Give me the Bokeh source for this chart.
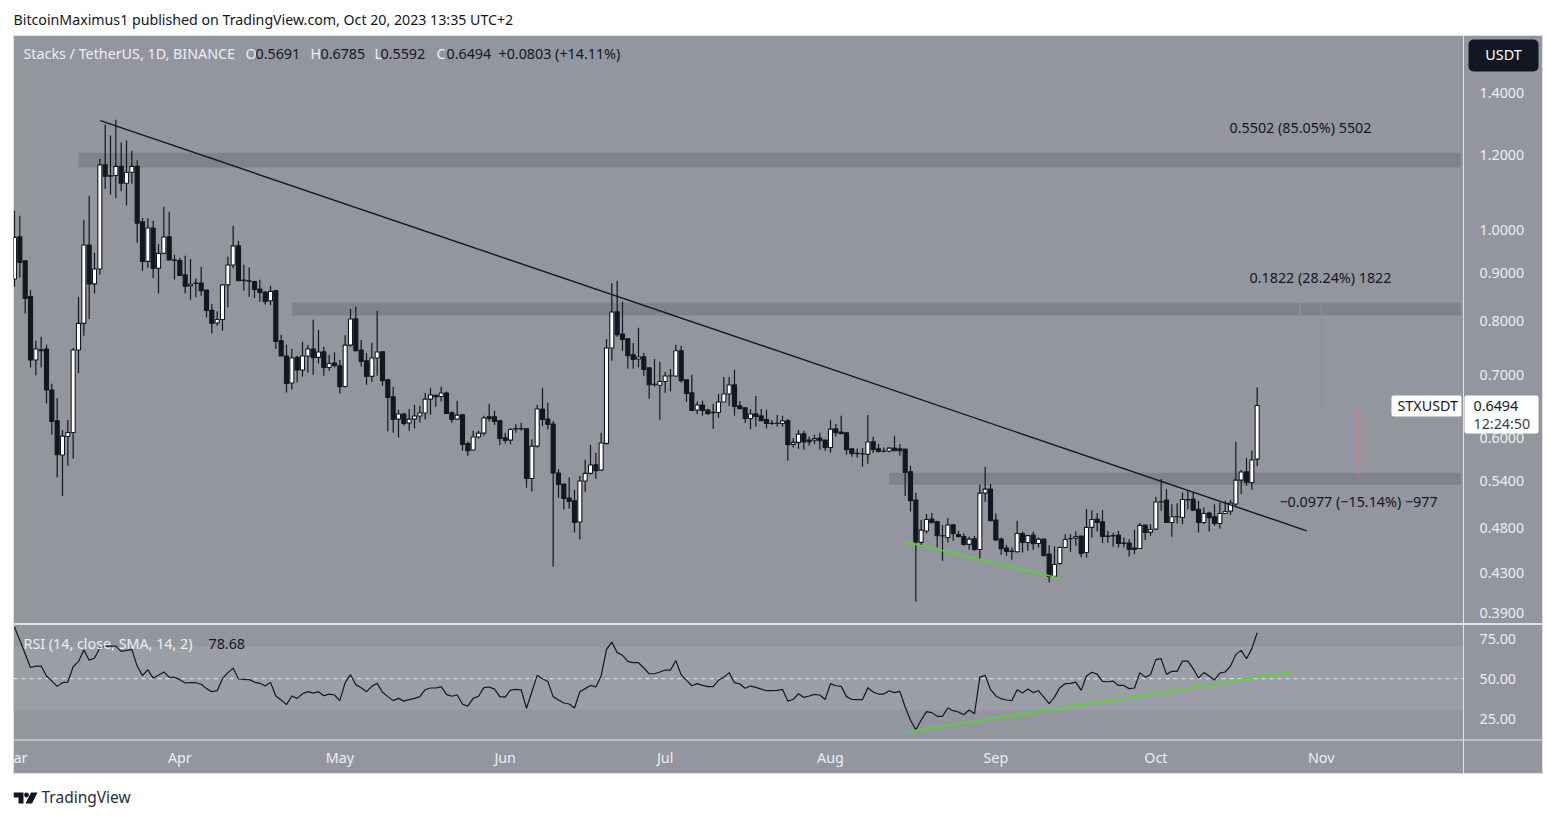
import math
from bokeh.embed import file_html
from bokeh.layouts import column
from bokeh.models import (BoxAnnotation, ColumnDataSource, FixedTicker, Label, LinearAxis, LogAxis,
                          Range1d, PrintfTickFormatter)
from bokeh.plotting import figure
from bokeh.resources import INLINE

opens = [
.8858,.9829,.9266,.8483,.7261,.7446,.7459,.6744,.6254,.5749,
.6018,.6076,.7441,.7945,.9630,.8753,.9078,1.1725,1.1421,1.1421,
1.1682,1.1208,1.1515,1.1682,1.0199,.9250,1.0042,.9094,.9435,.9829,
.9282,.9270,.8953,.8710,.8765,.8773,.8623,.8201,.7952,.8021,
.8731,.9169,.9609,.8836,.8822,.8801,.8644,.8581,.8399,.8608,
.7613,.7333,.6861,.7307,.7084,.7333,.7459,.7307,.7410,.7129,
.7207,.7158,.6803,.7531,.8035,.7441,.7248,.6975,.7296,.7410,
.6917,.6633,.6280,.6358,.6219,.6280,.6327,.6374,.6596,.6657,
.6639,.6696,.6378,.6280,.6347,.5912,.5820,.6010,.6067,.6316,
.6316,.6254,.5997,.5964,.6137,.6137,.6132,.5428,.5876,.6437,
.6280,.6205,.5501,.5354,.5172,.5138,.4877,.5393,.5496,.5614,
.5540,.5916,.7477,.8175,.7739,.7650,.7356,.7279,.7320,.7123,
.6838,.6823,.6888,.6981,.6981,.7428,.6917,.6700,.6421,.6500,
.6421,.6385,.6383,.6548,.6680,.6833,.6489,.6458,.6290,.6363,
.6332,.6274,.6216,.6213,.6213,.6254,.5902,.5930,.6057,.5964,
.5964,.5993,.5964,.5856,.6132,.6082,.6072,.5838,.5775,.5768,
.5758,.5940,.5838,.5806,.5806,.5848,.5838,.5834,.5518,.5147,
.4639,.4770,.4912,.4880,.4715,.4695,.4844,.4729,.4707,.4616,
.4680,.4558,.5236,.5288,.4900,.4676,.4574,.4540,.4533,.4741,
.4638,.4722,.4627,.4676,.4508,.4267,.4404,.4581,.4680,.4688,
.4712,.4525,.4813,.4912,.4880,.4712,.4712,.4722,.4631,.4631,
.4574,.4570,.4841,.4758,.4793,.5126,.5147,.4872,.4940,.4932,
.5154,.5159,.5033,.4872,.4985,.4940,.4860,.4980,.5009,.5098,
.5406,.5518,.5375,.5691]

highs = [
1.0478,1.0350,.9266,.8629,.7613,.7687,.7536,.6850,.6612,.6112,
.6265,.7477,.8482,1.0249,1.0870,.9451,1.1898,1.2945,1.2600,1.3100,
1.2394,1.2445,1.2142,1.1848,1.0293,1.0283,1.0224,.9654,1.0582,1.0453,
.9405,.9330,.9382,.9305,.8870,.9131,.8623,.8333,.8181,.8731,
.9358,1.0099,.9733,.9176,.9114,.8822,.8843,.8594,.8715,.8629,
.7726,.7541,.7459,.7338,.7595,.7534,.8016,.7815,.7500,.7356,
.7397,.7261,.7718,.8229,.8276,.7626,.7387,.7577,.8195,.7410,
.6934,.6798,.6426,.6378,.6437,.6505,.6489,.6696,.6783,.6667,
.6798,.6717,.6400,.6569,.6358,.5944,.6102,.6102,.6332,.6521,
.6410,.6265,.6072,.6143,.6202,.6224,.6132,.5978,.6500,.6783,
.6537,.6250,.5553,.5354,.5441,.5275,.5459,.5683,.5896,.5778,
.6072,.7644,.8772,.8822,.8379,.7655,.7572,.7860,.7387,.7123,
.7278,.7230,.7050,.7100,.7536,.7518,.6917,.7004,.6558,.6569,
.6442,.6516,.6680,.6964,.6964,.7089,.6564,.6458,.6437,.6645,
.6437,.6426,.6265,.6342,.6332,.6280,.5992,.6117,.6102,.6012,
.6042,.6072,.5964,.6269,.6204,.6332,.6082,.5838,.5842,.5852,
.6342,.6012,.5907,.5856,.5856,.6028,.5907,.5834,.5600,.5236,
.4900,.4972,.4985,.4892,.4841,.4925,.4853,.4773,.4741,.4703,
.4715,.5344,.5586,.5354,.4980,.4695,.4612,.4580,.4892,.4765,
.4725,.4761,.4695,.4676,.4608,.4593,.4593,.4734,.4734,.4765,
.4712,.5033,.5021,.4985,.5021,.4773,.4749,.4773,.4695,.4676,
.4785,.4865,.4841,.4853,.5190,.5419,.5288,.5096,.5108,.5245,
.5266,.5245,.5138,.5053,.5001,.5096,.5118,.5138,.5147,.5940,
.5540,.5707,.5810,.6785]

lows = [
.8692,.8894,.8141,.7129,.6992,.7129,.6526,.6042,.5441,.5200,
.5599,.5701,.7026,.7707,.8029,.8551,.8953,1.1053,1.0900,1.0810,
1.0988,1.0610,1.1192,.9692,.9041,.9100,.8880,.8551,.9435,.9282,
.8849,.8938,.8551,.8420,.8469,.8503,.8059,.7751,.7897,.7802,
.8265,.9096,.8822,.8608,.8483,.8453,.8379,.8319,.8305,.7459,
.7333,.6705,.6755,.6871,.6970,.7043,.7004,.7199,.6987,.7072,
.7129,.6688,.6787,.7500,.7416,.7147,.6833,.6883,.6987,.6815,
.6091,.6072,.6002,.6180,.6102,.6137,.6228,.6274,.6347,.6473,
.6558,.6367,.6223,.6280,.5810,.5740,.5810,.5988,.6027,.6244,
.6190,.5888,.5916,.5902,.6072,.6102,.5305,.5257,.5856,.6173,
.6121,.4372,.5176,.5029,.5041,.4753,.4672,.5253,.5478,.5423,
.5531,.5896,.7248,.7689,.7428,.7112,.7112,.7129,.6987,.6600,
.6803,.6270,.6700,.6722,.6970,.6866,.6553,.6415,.6358,.6332,
.6347,.6132,.6300,.6548,.6489,.6332,.6437,.6224,.6122,.6162,
.6254,.6137,.6190,.6162,.6162,.5669,.5856,.5838,.5824,.5882,
.5907,.5824,.5810,.5782,.6017,.6057,.5754,.5725,.5715,.5589,
.5627,.5778,.5786,.5786,.5786,.5806,.5740,.5200,.5005,.4012,
.4601,.4741,.4865,.4581,.4434,.4638,.4657,.4695,.4602,.4555,
.4544,.4442,.5126,.4884,.4657,.4500,.4489,.4445,.4525,.4525,
.4544,.4555,.4581,.4489,.4204,.4256,.4390,.4577,.4533,.4602,
.4470,.4470,.4695,.4765,.4631,.4631,.4590,.4581,.4581,.4481,
.4508,.4563,.4665,.4715,.4781,.5013,.4872,.4703,.4860,.4852,
.5033,.5021,.4753,.4852,.4765,.4832,.4800,.4973,.4965,.5075,
.5224,.5332,.5279,.5592]

closes = [
.9812,.9227,.8447,.7261,.7459,.7428,.6744,.6243,.5754,.6023,
.6076,.7441,.7945,.9630,.8753,.9078,1.1725,1.1402,1.1402,1.1682,
1.1208,1.1515,1.1682,1.0157,.9250,1.0042,.9094,.9435,.9821,.9282,
.9270,.8938,.8702,.8744,.8770,.8608,.8201,.7945,.8021,.8731,
.9169,.9609,.8822,.8822,.8810,.8635,.8572,.8385,.8594,.7600,
.7333,.6854,.7296,.7084,.7333,.7459,.7302,.7405,.7129,.7199,
.7164,.6800,.7531,.8029,.7428,.7235,.6975,.7296,.7405,.6900,
.6622,.6274,.6358,.6213,.6280,.6327,.6374,.6596,.6662,.6633,
.6696,.6367,.6274,.6342,.5902,.5810,.6010,.6067,.6296,.6289,
.6243,.5987,.5958,.6122,.6130,.6130,.5428,.5876,.6437,.6274,
.6199,.5501,.5349,.5167,.5130,.4872,.5393,.5496,.5610,.5531,
.5921,.7477,.8169,.7726,.7637,.7338,.7271,.7315,.7094,.6833,
.6833,.6888,.6981,.6985,.7428,.6900,.6688,.6415,.6500,.6415,
.6363,.6380,.6548,.6680,.6828,.6478,.6441,.6290,.6358,.6320,
.6254,.6213,.6213,.6216,.6250,.5898,.5930,.6052,.5936,.5940,
.5988,.5954,.5856,.6127,.6072,.6057,.5824,.5768,.5768,.5764,
.5936,.5828,.5800,.5803,.5848,.5810,.5810,.5509,.5138,.4643,
.4781,.4908,.4868,.4715,.4712,.4841,.4741,.4707,.4616,.4676,
.4558,.5236,.5288,.4892,.4668,.4569,.4536,.4536,.4741,.4638,
.4717,.4624,.4676,.4489,.4267,.4393,.4581,.4672,.4684,.4707,
.4514,.4813,.4908,.4872,.4707,.4708,.4717,.4627,.4627,.4558,
.4558,.4837,.4753,.4789,.5122,.5122,.4872,.4940,.4944,.5154,
.5150,.5021,.4872,.4980,.4928,.4860,.4980,.5005,.5109,.5406,
.5514,.5375,.5679,.6494]

rsi_values = [
82.3,74,65.6,57,57.9,57.9,51.7,48.5,45.2,47.5,
47.9,57.5,60.8,67.9,61.5,62.9,69.2,70.4,70.4,70.4,
67.1,67.7,68.3,57.9,51.9,55.6,50.4,52.1,54.2,51,
50.8,49.4,47.3,47.5,47.5,46.5,43.8,41.9,42.5,50,
53.8,56.5,49.8,49.6,49.4,47.9,47.1,45.4,47.7,39.2,
36.7,33.8,39.2,37.7,40.6,41.9,41,41.9,39.4,40.4,
39.8,36.3,47.5,52.5,46.3,44.4,41.9,45.2,47.1,41.5,
38.8,36.3,37.7,36,36.9,37.7,38.8,43.1,44.2,44.2,
45,40.2,39,40,34,32.9,37.7,39,44.4,44.8,
43.5,38.8,38.5,42.9,43.3,43.1,31.5,41.7,52.1,50,
48.3,38.8,36.7,34.8,34.2,31.7,41.9,43.8,45.8,44.8,
51.7,68.3,72.9,66.3,64.6,60.8,60,60,56.7,53.1,
53.1,54.2,55.4,55.4,61.3,52.5,49,45.6,46.9,45.8,
45,45,49,51,53.8,47.5,46.7,44,45.4,44.6,
43.5,42.5,42.5,42.7,43.3,36,37,40.6,38.3,39.2,
40.2,39.8,37,46.9,45.6,45.2,38.8,37,36.9,36.9,
44.4,41.7,40.4,40.4,42.5,41.3,42.1,32.3,24,18.1,
24,29.4,28.8,26.5,26.5,31.7,30,29.2,27.5,30.4,
28.1,51,52.1,43.3,39.2,37.5,36.7,36.3,43.1,41,
43.5,41.3,42.5,38.5,34.4,38.5,44.4,46.9,47.1,47.9,
42.7,51.7,54,52.9,48.3,48.1,48.5,45.8,45.8,43.8,
44.2,53.8,51,52.5,61.9,62.5,52.7,54.6,54.6,61,
61,56.3,50.4,53.8,51.7,49.2,53.5,54.2,57.9,65.2,
67.7,62.5,68.8,78.68]

price_ticks = [1.4, 1.2, 1.0, 0.9, 0.8, 0.7, 0.6, 0.54, 0.48, 0.43, 0.39]
rsi_ticks = [25, 50, 75]
month_days = [1, 31, 61, 92, 122, 153, 184, 214, 245]
month_labels = ["ar", "Apr", "May", "Jun", "Jul", "Aug", "Sep", "Oct", "Nov"]

zone_starts = [12, 52, 164]
zone_tops = [1.2083, 0.8358, 0.5504]
zone_bottoms = [1.1646, 0.8097, 0.5345]

trend_days = [16.1, 242.3]
trend_prices = [1.307, 0.4773]
support_days = [167.1, 196.0]
support_prices = [0.4643, 0.4249]
rsi_support_days = [167.0, 239.0]
rsi_support_values = [16.7, 54.2]

for series in (opens, highs, lows, closes, rsi_values):
    assert len(series) == 234, len(series)

FONT = "Noto Sans"
SIZE = "14.3px"
BG = "#93969f"
BAND = "#9b9ea7"
ZONE = "#80838c"
DARK = "#131722"
LIGHT = "#eceef2"
EDGE = "#dfe1e6"

X0 = -0.1875
X1 = 286.6875      # frame runs to the right edge of the chart
PANE_END = 271.69  # the price-scale strip starts here


def day_at(px):
    return (px - 14) / 5.3333


def price_at(py):
    return math.exp((229 - py) / 406.8)


def rsi_at(py):
    return 50 + (678.2 - py) / 1.6


days = list(range(len(closes)))
up = [c >= o for o, c in zip(opens, closes)]
source = ColumnDataSource(dict(
    day=days, low=lows, high=highs,
    top=[max(o, c) for o, c in zip(opens, closes)],
    bottom=[min(o, c) for o, c in zip(opens, closes)],
    fill=["#ffffff" if u else DARK for u in up],
))


def box_on(fig, left, right, top, bottom, color, radius=0):
    fig.add_layout(BoxAnnotation(left=left, right=right, top=top, bottom=bottom,
                                 left_units="canvas", right_units="canvas",
                                 top_units="canvas", bottom_units="canvas",
                                 fill_color=color, fill_alpha=1, line_color=None,
                                 border_radius=radius, level="overlay"))


def style_axis(ax):
    ax.major_tick_line_color = None
    ax.minor_tick_line_color = None
    ax.axis_line_color = None
    ax.major_label_text_color = LIGHT
    ax.major_label_text_font = FONT
    ax.major_label_text_font_size = SIZE
    ax.major_label_standoff = 0


# ---- header strip ----
head = figure(width=1530, height=35, x_range=Range1d(13, 1543), y_range=Range1d(35, 0),
              toolbar_location=None, output_backend="svg", min_border=0,
              background_fill_color="white", border_fill_color="white", outline_line_color=None)
head.axis.visible = False
head.grid.visible = False
head.margin = (0, 0, 0, 13)
head.add_layout(Label(x=13, y=19, text="BitcoinMaximus1 published on TradingView.com, Oct 20, 2023 13:35 UTC+2",
                      text_font=FONT, text_font_size="14.2px", text_color=DARK,
                      text_align="left", text_baseline="middle"))

# ---- price pane ----
p = figure(width=1530, height=589, y_axis_type="log", y_axis_location=None, x_axis_location=None,
           x_range=Range1d(X0, X1), y_range=Range1d(price_at(623.5), price_at(35)),
           toolbar_location=None, output_backend="svg", min_border=0,
           background_fill_color=BG, border_fill_color=BG,
           outline_line_color=EDGE, outline_line_width=1)
p.margin = (0, 0, 0, 13)
p.grid.visible = False
price_axis = LogAxis(fixed_location=day_at(1473), ticker=FixedTicker(ticks=price_ticks),
                     formatter=PrintfTickFormatter(format="%.4f"))
style_axis(price_axis)
p.add_layout(price_axis, "right")

p.quad(left=zone_starts, right=[271.2] * 3, top=zone_tops, bottom=zone_bottoms,
       fill_color=ZONE, line_color=None)
p.segment(x0=[PANE_END], x1=[PANE_END], y0=[price_at(623.5)], y1=[price_at(35)],
          line_color=EDGE, line_width=1)

# position-tool leftovers
p.segment(x0=[241.0], y0=[1.1646], x1=[241.0], y1=[0.6459], line_color="#8f9c95", line_width=1)
p.segment(x0=[245.0], y0=[0.8297], x1=[245.0], y1=[0.6459], line_color="#6fa37a", line_width=1)
p.segment(x0=[252.0], y0=[0.6442], x1=[252.0], y1=[0.5464], line_color="#c07f86", line_width=1)

p.segment(x0="day", y0="low", x1="day", y1="high", source=source, line_color=DARK, line_width=1.2)
p.vbar(x="day", width=0.76, top="top", bottom="bottom", source=source,
       fill_color="fill", line_color=DARK, line_width=1.1)

p.line(trend_days, trend_prices, line_color=DARK, line_width=1.4)
p.line(support_days, support_prices, line_color="#4ce00f", line_width=1.5)


def price_label(px, py, text, color=DARK, align="left", size=SIZE):
    # canvas pixels of the price pane (its canvas starts at page 13,35)
    p.add_layout(Label(x=px - 13, y=py - 36, x_units="canvas", y_units="canvas", text=text,
                       text_font=FONT, text_font_size=size,
                       text_color=color, text_align=align, text_baseline="middle", level="overlay"))


# pills and button
box_on(p, 1378, 1448, 360, 381, "#ffffff", 2)
box_on(p, 1451, 1525, 360, 398, "#ffffff", 2)
box_on(p, 1455, 1525, 4, 36, "#131722", 5)

price_label(23, 54, "Stacks / TetherUS, 1D, BINANCE", LIGHT)
for px, letter in [(245, "O"), (310, "H"), (374, "L"), (436, "C")]:
    price_label(px, 54, letter, LIGHT)
for px, value in [(255, "0.5691"), (320, "0.6785"), (380, "0.5592"), (446, "0.6494"),
                  (498, "+0.0803 (+14.11%)")]:
    price_label(px, 54, value)

price_label(1300, 128, "0.5502 (85.05%) 5502", align="center")
price_label(1320, 278, "0.1822 (28.24%) 1822", align="center")
price_label(1358, 502, "\u22120.0977 (\u221215.14%) \u2212977", align="center")
price_label(1397, 406, "STXUSDT")
price_label(1473, 406, "0.6494")
price_label(1473, 424, "12:24:50", "#3a3e48")
price_label(1503, 55, "USDT", "#ffffff", "center")

# ---- RSI pane + time axis ----
r = figure(width=1530, height=150, x_range=p.x_range, y_axis_location=None, x_axis_location=None,
           y_range=Range1d(rsi_at(774), rsi_at(624)),
           toolbar_location=None, output_backend="svg", min_border=0,
           background_fill_color=BG, border_fill_color=BG,
           outline_line_color=EDGE, outline_line_width=1)
r.margin = (0, 0, 0, 13)
r.grid.visible = False

time_axis = LinearAxis(fixed_location=rsi_at(741), ticker=FixedTicker(ticks=month_days),
                       major_label_overrides=dict(zip(month_days, month_labels)))
style_axis(time_axis)
r.add_layout(time_axis, "below")

rsi_axis = LinearAxis(fixed_location=day_at(1473), ticker=FixedTicker(ticks=rsi_ticks),
                      formatter=PrintfTickFormatter(format="%.2f"))
style_axis(rsi_axis)
r.add_layout(rsi_axis, "right")

r.quad(left=[X0], right=[PANE_END], top=[70.2], bottom=[30.4], fill_color=BAND, line_color=None)
r.segment(x0=[X0], x1=[PANE_END], y0=[50], y1=[50], line_color="#e8eaee", line_dash="4 4", line_width=1)
r.segment(x0=[PANE_END], x1=[PANE_END], y0=[rsi_at(774)], y1=[rsi_at(624)], line_color=EDGE, line_width=1)
r.segment(x0=[X0], x1=[X1], y0=[rsi_at(739.5)], y1=[rsi_at(739.5)], line_color=EDGE, line_width=1)
r.line(days, rsi_values, line_color=DARK, line_width=1.2)
r.line(rsi_support_days, rsi_support_values, line_color="#4ce00f", line_width=1.5)
r.add_layout(Label(x=10, y=19, x_units="canvas", y_units="canvas", text="RSI (14, close, SMA, 14, 2)",
                   text_font=FONT, text_font_size=SIZE, text_color=LIGHT,
                   text_align="left", text_baseline="middle"))
r.add_layout(Label(x=195, y=19, x_units="canvas", y_units="canvas", text="78.68",
                   text_font=FONT, text_font_size=SIZE, text_color=DARK,
                   text_align="left", text_baseline="middle"))

# ---- footer ----
foot = figure(width=1530, height=38, x_range=Range1d(13, 1543), y_range=Range1d(811, 773),
              toolbar_location=None, output_backend="svg", min_border=0,
              background_fill_color="white", border_fill_color="white", outline_line_color=None)
foot.axis.visible = False
foot.grid.visible = False
foot.margin = (0, 0, 0, 13)
foot.patch([13, 23, 23, 18, 18, 13], [791, 791, 802, 802, 796, 796], fill_color=DARK, line_color=None)
foot.circle(x=[26], y=[793.5], radius=2.4, fill_color=DARK, line_color=None)
foot.patch([30.5, 37, 31.5, 25], [791, 791, 802, 802], fill_color=DARK, line_color=None)
foot.add_layout(Label(x=41, y=795.5, text="TradingView", text_font=FONT, text_font_size="15.5px",
                      text_color="#2a2e39", text_align="left", text_baseline="middle"))

layout = column(head, p, r, foot, spacing=0)
open("out.html", "w").write(file_html(layout, INLINE))
